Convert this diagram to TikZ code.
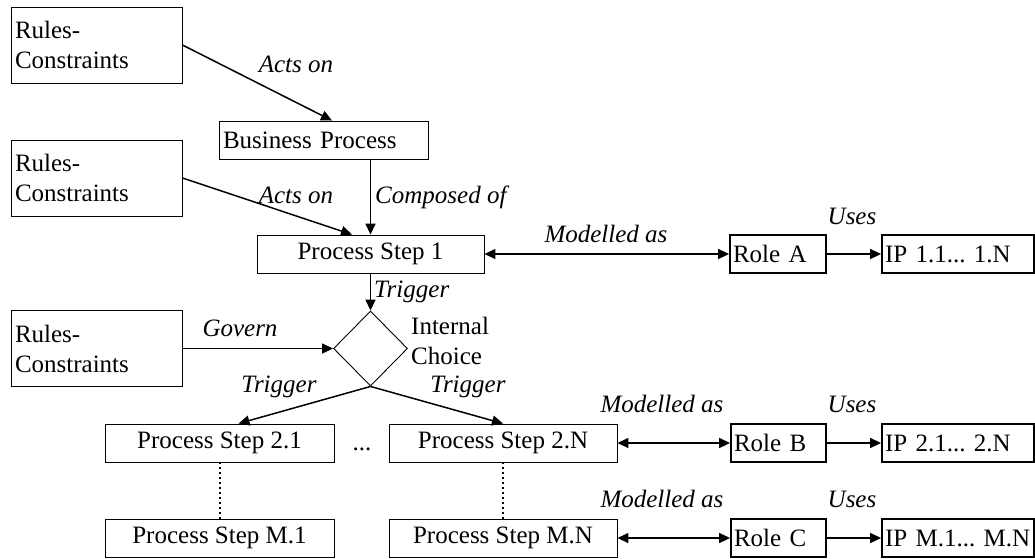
\documentclass[tikz,border=0pt]{standalone}
\usepackage{fontspec}
\setmainfont{Liberation Serif}
\usetikzlibrary{shapes.geometric,arrows.meta}
\frenchspacing
\begin{document}
\begin{tikzpicture}[x=1pt,y=-1pt,
  every node/.style={font=\fontsize{25pt}{30pt}\selectfont},
  thinbox/.style={draw, line width=0.9pt, inner sep=0pt, minimum height=38pt},
  lbox/.style={draw, line width=0.9pt, inner xsep=4pt, inner ysep=0pt, align=left},
  rolebox/.style={draw, line width=1.8pt, inner xsep=3pt, inner ysep=0pt, minimum height=38pt, align=left},
  conn/.style={line width=1.5pt, -{Triangle[length=11pt,width=10pt]}},
  biconn/.style={line width=1.5pt, {Triangle[length=11pt,width=10pt]}-{Triangle[length=11pt,width=10pt]}},
  lbl/.style={font=\fontsize{25pt}{30pt}\selectfont\itshape, anchor=base, inner sep=0pt},
  dotline/.style={line width=2pt, dash pattern=on 2pt off 3pt}
]
\useasboundingbox (0,0) rectangle (1035,558);

% rules boxes
\node[lbox, text width=163pt, minimum height=76pt] (r1) at (96.5,45) {Rules-\\Constraints};
\node[lbox, text width=163pt, minimum height=76pt] (r2) at (96.5,178) {Rules-\\Constraints};
\node[lbox, text width=163pt, minimum height=76pt] (r3) at (96.5,348.5) {Rules-\\Constraints};

% business process
\node[lbox, text width=201pt, minimum height=38pt] (bp) at (323.5,140) {Business Process};

% process steps
\node[thinbox, minimum width=227pt] (ps1) at (370.5,254) {Process Step 1};
\node[draw, diamond, line width=0.9pt, inner sep=0pt, minimum width=74pt, minimum height=75pt] (dia) at (370.5,348.5) {};
\node[anchor=base west, align=left, inner sep=0pt] (ic) at (411,364) {Internal\\Choice};

\node[thinbox, minimum width=229pt] (ps21) at (219.5,443) {Process Step 2.1};
\node[thinbox, minimum width=228pt] (ps2n) at (503,443) {Process Step 2.N};
\node[thinbox, minimum width=229pt] (psm1) at (219.5,538) {Process Step M.1};
\node[thinbox, minimum width=228pt] (psmn) at (503,538) {Process Step M.N};
\node[anchor=base, inner sep=0pt] (dots) at (362,450) {...};

% roles and IPs
\node[rolebox, text width=90pt] (ra) at (778,254) {Role A};
\node[rolebox, text width=146pt] (ia) at (958,254) {IP 1.1... 1.N};
\node[rolebox, text width=89pt] (rb) at (778.5,443) {Role B};
\node[rolebox, text width=146pt] (ib) at (958,443) {IP 2.1... 2.N};
\node[rolebox, text width=89pt] (rc) at (778.5,538) {Role C};
\node[rolebox, text width=146pt] (ic2) at (958,538) {IP M.1... M.N};

% connectors
\draw[conn] (r1.east) -- ([xshift=8.5pt]bp.north);
\draw[conn] (bp.south -| ps1.north) -- (ps1.north);
\draw[conn] (r2.east) -- ([xshift=-18.5pt]ps1.north);
\draw[conn] (ps1.south) -- (dia.north);
\draw[conn] (r3.east) -- (dia.west);
\draw[conn] (dia.south) -- ([xshift=19pt]ps21.north);
\draw[conn] (dia.south) -- (ps2n.north);
\draw[dotline] (ps21.south) -- (psm1.north);
\draw[dotline] (ps2n.south) -- (psmn.north);

\draw[biconn] (ps1.east) -- (ra.west);
\draw[conn] (ra.east) -- (ia.west);
\draw[biconn] (ps2n.east) -- (rb.west);
\draw[conn] (rb.east) -- (ib.west);
\draw[biconn] (psmn.east) -- (rc.west);
\draw[conn] (rc.east) -- (ic2.west);

% labels
\node[lbl] (l1) at (296,72) {Acts on};
\node[lbl, anchor=base west] (l2) at (375,203) {Composed of};
\node[lbl] (l3) at (296,203) {Acts on};
\node[lbl, anchor=base west] (l4) at (374,297) {Trigger};
\node[lbl] (l5) at (240,336) {Govern};
\node[lbl] (l6) at (279,392) {Trigger};
\node[lbl] (l7) at (468,392) {Trigger};
\node[lbl] (l8) at (606,242) {Modelled as};
\node[lbl] (l9) at (852,224) {Uses};
\node[lbl] (l10) at (662,412) {Modelled as};
\node[lbl] (l11) at (852,412) {Uses};
\node[lbl] (l12) at (662,507) {Modelled as};
\node[lbl] (l13) at (852,507) {Uses};
\end{tikzpicture}
\end{document}
